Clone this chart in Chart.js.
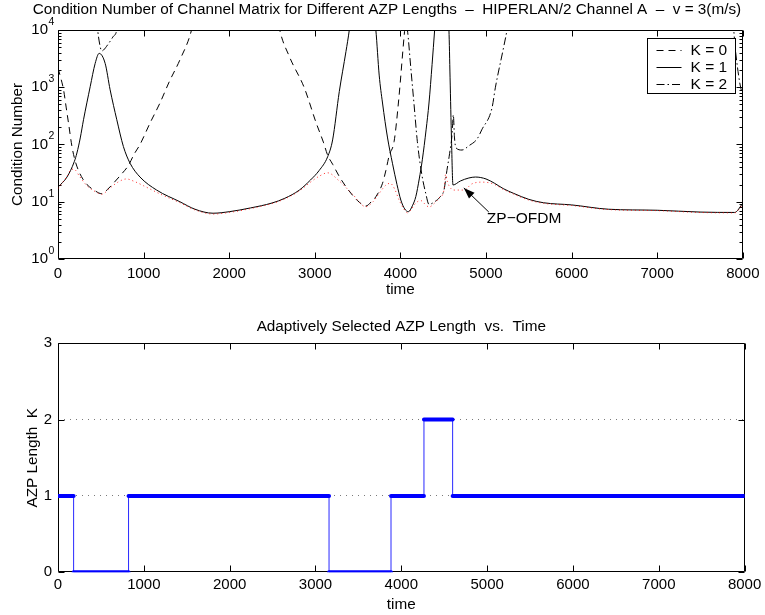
<!DOCTYPE html>
<html><head><meta charset="utf-8">
<script src="https://cdn.jsdelivr.net/npm/chart.js@4.4.1/dist/chart.umd.min.js"></script>
<style>
html,body{margin:0;padding:0;background:#fff;}
#wrap{position:relative;width:765px;height:615px;overflow:hidden;background:#fff;}
canvas{position:absolute;left:0;}
#c1{top:0;} #c2{top:300px;}
</style></head><body>
<div id="wrap"><canvas id="c1" width="765" height="300"></canvas><canvas id="c2" width="765" height="315"></canvas></div>
<script>
// ---------------- data ----------------
const topTitle = 'Condition Number of Channel Matrix for Different AZP Lengths  \u2013  HIPERLAN/2 Channel A  \u2013  v = 3(m/s)';
const bottomTitle = 'Adaptively Selected AZP Length  vs.  Time';
const xTickValues = [0, 1000, 2000, 3000, 4000, 5000, 6000, 7000, 8000];
const logTickBase = '10';
const logTickExponents = ['0', '1', '2', '3', '4'];
const legendLabels = ['K = 0', 'K = 1', 'K = 2'];

// K = 0 (dashed)
const timeK0 = [0, 35, 65, 95, 124, 163, 200, 240, 290, 338, 420, 512, 580, 647, 730, 822, 890, 958, 1074, 1191, 1300, 1424, 1560, 1640,
  2520, 2590, 2704, 2878, 3015, 3100, 3150, 3209, 3290, 3364, 3450, 3520, 3596, 3660, 3713, 3791, 3830, 3870, 3926, 3980, 4044, 4090, 8000];
const condK0 = [2150, 1400, 900, 450, 230, 92, 52, 35, 25, 20, 16, 13.8, 16.5, 21, 29, 43, 68, 100, 235, 530, 1250, 3000, 10000, 40000,
  40000, 10000, 3400, 970, 240, 110, 65, 45, 27, 18.3, 12.5, 9.8, 8.4, 10, 12.2, 21, 35, 65, 112, 600, 8000, 40000, 40000];

// K = 1 (solid)
const timeK1 = [0, 105, 190, 221, 260, 298, 376, 434, 481, 551, 609, 687, 764, 842, 958, 1152, 1424, 1600, 1811, 2000, 2250, 2500, 2650, 2820,
  2950, 3050, 3150, 3208, 3286, 3364, 3403, 3450, 3660, 3713, 3752, 3791, 3850, 3907, 3960, 4005, 4050, 4093, 4140, 4180, 4220, 4256, 4300,
  4334, 4370, 4400, 4430, 4545, 4567, 4580, 4597, 4614, 4700, 4800, 4877, 5000, 5100, 5200, 5323, 5500, 5672, 6000, 6430, 7000, 7500, 7904, 8000];
const condK1 = [18, 27, 50, 71, 130, 270, 1020, 2600, 3900, 2600, 900, 270, 92, 47, 27, 16, 10, 7.4, 6.3, 6.7, 7.8, 9.5, 11.5, 16,
  24, 35, 61, 120, 840, 4200, 10000, 40000, 40000, 10000, 1630, 530, 130, 47, 20, 10.7, 7.5, 6.7, 8.5, 12.3, 25, 54, 180,
  530, 2500, 10000, 40000, 40000, 10000, 1500, 120, 19.6, 23, 26, 27, 25, 21, 17, 14, 11, 9.6, 8.8, 7.4, 7.1, 6.6, 6.5, 9.4];

// K = 2 (dash-dot)
const timeK2 = [0, 420, 473, 512, 531, 580, 640, 687, 740, 4000, 4082, 4120, 4160, 4198, 4250, 4296, 4334, 4400, 4460, 4509, 4543, 4575, 4605,
  4618, 4632, 4650, 4720, 4800, 4896, 4950, 5070, 5110, 5207, 5245, 5300, 7850, 7917, 7964, 8000];
const condK2 = [40000, 40000, 7600, 4300, 4450, 5500, 7500, 10000, 40000, 40000, 10000, 2300, 490, 112, 30, 14, 9, 10, 12, 16, 35, 70, 160,
  330, 130, 87, 80, 95, 125, 180, 435, 1000, 5100, 10000, 40000, 40000, 4000, 1200, 700];

// ZP-OFDM (red dotted)
const timeZP = [0, 100, 163, 200, 250, 338, 420, 512, 600, 700, 800, 880, 1000, 1200, 1424, 1600, 1811, 2000, 2250, 2500, 2650, 2820, 2950,
  3053, 3150, 3286, 3441, 3596, 3680, 3752, 3830, 3880, 3930, 3985, 4040, 4082, 4130, 4180, 4237, 4290, 4334, 4400, 4450, 4509, 4528, 4550,
  4590, 4625, 4741, 4835, 4950, 5033, 5100, 5200, 5323, 5500, 5672, 6000, 6430, 7000, 7500, 7904, 8000];
const condZP = [17, 27, 37, 36, 28, 19, 15.5, 13.5, 17, 22, 25, 23, 19, 13.5, 9.6, 7.2, 6.1, 6.5, 7.6, 9.3, 11.2, 15.5, 22,
  28, 32, 23, 13.5, 8.2, 10, 14, 19.5, 21, 17, 10.7, 7.5, 6.4, 7.5, 9.5, 10.5, 9, 8.1, 9.5, 11.5, 16, 30, 22,
  17, 16, 16, 20.5, 22, 21.5, 20, 16.5, 13.6, 10.7, 9.4, 8.6, 7.3, 7.0, 6.5, 6.4, 9];

// annotation (data coordinates)
const zpNote = { text: 'ZP\u2212OFDM', tipX: 4741, tipY: 17.4, tailX: 5033, tailY: 6.6, textX: 5010, textY: 5.1 };

// Adaptive AZP length selection (step function)
const azpTimes = [0, 182, 822, 3158, 3880, 4264, 4598, 8000];
const azpLevels = [1, 0, 1, 0, 1, 2, 1, 1];
const azpTicks = [0, 1, 2, 3];

// ---------------- helpers ----------------
const FONT = '"Liberation Sans", Arial, Helvetica, sans-serif';
Chart.defaults.font.family = FONT;
Chart.defaults.font.size = 15;
Chart.defaults.color = '#000';
const TXT = 15.3;

function pts(xs, ys) { return xs.map((x, i) => ({ x: x, y: ys[i] })); }

const logMajor = [1, 10, 100, 1000, 10000];
const logMinor = [];
for (let d = 0; d < 4; d++) for (let k = 2; k <= 9; k++) logMinor.push(k * Math.pow(10, d));

const matlabAxes = {
  id: 'matlabAxes',
  afterLayout(chart, args, opts) {
    if (opts.titleShift && chart.titleBlock) {
      chart.titleBlock.left += opts.titleShift;
      chart.titleBlock.right += opts.titleShift;
    }
  },
  beforeDatasetsDraw(chart, args, opts) {
    const { ctx, chartArea: a } = chart;
    const xs = chart.scales.x, ys = chart.scales.y;
    ctx.save();
    ctx.strokeStyle = '#000';
    ctx.lineWidth = 1;
    const L = Math.round(a.left) + 0.5, R = Math.round(a.right) - 0.5, T = Math.round(a.top) + 0.5, B = Math.round(a.bottom) - 0.5;
    ctx.beginPath();
    ctx.rect(L, T, R - L, B - T);
    xTickValues.forEach(v => {
      const p = Math.round(xs.getPixelForValue(v)) + 0.5;
      ctx.moveTo(p, B); ctx.lineTo(p, B - 6);
      ctx.moveTo(p, T); ctx.lineTo(p, T + 6);
    });
    (opts.major || []).forEach(v => {
      const p = Math.round(ys.getPixelForValue(v)) + 0.5;
      ctx.moveTo(L, p); ctx.lineTo(L + 6, p);
      ctx.moveTo(R, p); ctx.lineTo(R - 6, p);
    });
    (opts.minor || []).forEach(v => {
      const p = Math.round(ys.getPixelForValue(v)) + 0.5;
      ctx.moveTo(L, p); ctx.lineTo(L + 3, p);
      ctx.moveTo(R, p); ctx.lineTo(R - 3, p);
    });
    ctx.stroke();
    // exponents of the log tick labels
    if (opts.exponents) {
      ctx.fillStyle = '#000';
      ctx.font = '10.5px ' + FONT;
      ctx.textAlign = 'left';
      ctx.textBaseline = 'middle';
      (opts.major || []).forEach((v, i) => {
        const p = ys.getPixelForValue(v);
        ctx.fillText(opts.exponents[i], a.left - 9.5, p - 8);
      });
    }
    ctx.restore();
  }
};

const insideLegend = {
  id: 'insideLegend',
  afterDatasetsDraw(chart) {
    const { ctx, chartArea: a } = chart;
    const w = 88, h = 55;
    const bx = Math.round(a.right - 8 - w) + 0.5, by = Math.round(a.top + 8) + 0.5;
    ctx.save();
    ctx.fillStyle = '#fff';
    ctx.fillRect(bx, by, w, h);
    ctx.strokeStyle = '#000';
    ctx.lineWidth = 1;
    ctx.strokeRect(bx, by, w, h);
    ctx.font = '15.5px ' + FONT;
    ctx.textBaseline = 'middle';
    ctx.textAlign = 'left';
    for (let i = 0; i < 3; i++) {
      const ds = chart.data.datasets[i];
      const yy = Math.round(by + 11 + i * 17) + 0.5;
      ctx.beginPath();
      ctx.setLineDash(ds.borderDash || []);
      ctx.strokeStyle = ds.borderColor;
      ctx.lineWidth = 1;
      ctx.moveTo(bx + 9, yy); ctx.lineTo(bx + 34, yy);
      ctx.stroke();
      ctx.setLineDash([]);
      ctx.fillStyle = '#000';
      ctx.fillText(legendLabels[i], bx + 43, yy);
    }
    ctx.restore();
  }
};

const zpAnnotation = {
  id: 'zpAnnotation',
  afterDatasetsDraw(chart) {
    const { ctx } = chart;
    const xs = chart.scales.x, ys = chart.scales.y;
    const tx = xs.getPixelForValue(zpNote.tipX), ty = ys.getPixelForValue(zpNote.tipY);
    const sx = xs.getPixelForValue(zpNote.tailX), sy = ys.getPixelForValue(zpNote.tailY);
    ctx.save();
    ctx.strokeStyle = '#000'; ctx.fillStyle = '#000'; ctx.lineWidth = 1;
    ctx.beginPath(); ctx.moveTo(sx, sy); ctx.lineTo(tx, ty); ctx.stroke();
    const ang = Math.atan2(ty - sy, tx - sx);
    const len = 11, hw = 4;
    const bxp = tx - len * Math.cos(ang), byp = ty - len * Math.sin(ang);
    ctx.beginPath();
    ctx.moveTo(tx, ty);
    ctx.lineTo(bxp + hw * Math.sin(ang), byp - hw * Math.cos(ang));
    ctx.lineTo(bxp - hw * Math.sin(ang), byp + hw * Math.cos(ang));
    ctx.closePath(); ctx.fill();
    ctx.font = '15.5px ' + FONT;
    ctx.textAlign = 'left'; ctx.textBaseline = 'middle';
    ctx.fillText(zpNote.text, xs.getPixelForValue(zpNote.textX), ys.getPixelForValue(zpNote.textY));
    ctx.restore();
  }
};

const xScaleBase = (ticksPadding, titlePadBottom, height) => ({
  type: 'linear', min: 0, max: 8000,
  afterBuildTicks(scale) { scale.ticks = xTickValues.map(v => ({ value: v })); },
  ticks: { padding: ticksPadding, autoSkip: false, maxRotation: 0, callback: v => String(v), font: { size: 15 } },
  grid: { display: false, drawTicks: false },
  border: { display: false },
  title: { display: true, text: 'time', font: { size: TXT }, padding: { top: 0, bottom: titlePadBottom } },
  afterFit(scale) { scale.height = height; }
});

// ---------------- top chart ----------------
new Chart(document.getElementById('c1'), {
  type: 'line',
  data: {
    datasets: [
      { label: legendLabels[0], data: pts(timeK0, condK0), borderColor: '#000', borderWidth: 1, borderDash: [7, 5], pointRadius: 0, cubicInterpolationMode: 'monotone', order: 3 },
      { label: legendLabels[1], data: pts(timeK1, condK1), borderColor: '#000', borderWidth: 1, pointRadius: 0, cubicInterpolationMode: 'monotone', order: 2 },
      { label: legendLabels[2], data: pts(timeK2, condK2), borderColor: '#000', borderWidth: 1, borderDash: [8, 3, 1.5, 3], pointRadius: 0, cubicInterpolationMode: 'monotone', order: 1 },
      { label: 'ZP-OFDM', data: pts(timeZP, condZP), borderColor: 'rgba(255,0,0,0.85)', borderWidth: 1, borderDash: [1, 3], pointRadius: 0, cubicInterpolationMode: 'monotone', order: 0 }
    ]
  },
  options: {
    responsive: false, devicePixelRatio: 1, animation: false, events: [],
    layout: { padding: { left: 0, right: 20, top: 0, bottom: 0 } },
    plugins: {
      legend: { display: false }, tooltip: { enabled: false },
      title: { display: true, text: topTitle, font: { size: TXT, weight: 'normal' }, color: '#000', padding: { top: 0.8, bottom: 10.8 } },
      matlabAxes: { major: logMajor, minor: logMinor, exponents: logTickExponents, titleShift: 14.5 }
    },
    scales: {
      x: xScaleBase(5.5, 0.8, 41),
      y: {
        type: 'logarithmic', min: 1, max: 10000,
        afterBuildTicks(scale) { scale.ticks = logMajor.map(v => ({ value: v })); },
        ticks: { padding: 10, autoSkip: false, callback: () => logTickBase, font: { size: 15 } },
        grid: { display: false, drawTicks: false },
        border: { display: false },
        title: { display: true, text: 'Condition Number', font: { size: TXT }, padding: { top: 8.8, bottom: 0 } },
        afterFit(scale) { scale.width = 58; }
      }
    }
  },
  plugins: [matlabAxes, insideLegend, zpAnnotation]
});

// ---------------- bottom chart ----------------
const thinStep = pts(azpTimes, azpLevels);
const thickSegs = [];
for (let i = 0; i < azpTimes.length - 1; i++) {
  thickSegs.push({ x: azpTimes[i], y: azpLevels[i] });
  thickSegs.push({ x: azpTimes[i + 1], y: azpLevels[i] });
  thickSegs.push({ x: azpTimes[i + 1], y: null });
}

new Chart(document.getElementById('c2'), {
  type: 'line',
  data: {
    datasets: [
      { label: 'selected', data: thickSegs, borderColor: 'rgb(0,0,255)', borderWidth: 4, borderCapStyle: 'round', pointRadius: 0, spanGaps: false, order: 0 },
      { label: 'step', data: thinStep, borderColor: 'rgb(40,40,255)', borderWidth: 1, stepped: 'before', pointRadius: 0, order: 1 }
    ]
  },
  options: {
    responsive: false, devicePixelRatio: 1, animation: false, events: [],
    layout: { padding: { left: 0, right: 20, top: 0, bottom: 0 } },
    plugins: {
      legend: { display: false }, tooltip: { enabled: false },
      title: { display: true, fullSize: false, text: bottomTitle, font: { size: TXT, weight: 'normal' }, color: '#000', padding: { top: 17.8, bottom: 7.1 } },
      matlabAxes: { major: azpTicks, minor: [] }
    },
    scales: {
      x: xScaleBase(3.7, 0.8, 42.7),
      y: {
        type: 'linear', min: 0, max: 3,
        afterBuildTicks(scale) { scale.ticks = azpTicks.map(v => ({ value: v })); },
        ticks: { padding: 6, autoSkip: false, callback: v => String(v), font: { size: 15 } },
        grid: { display: true, drawTicks: false, lineWidth: 1,
          color: (c) => (c.tick && (c.tick.value === 1 || c.tick.value === 2)) ? '#7a7a7a' : 'rgba(0,0,0,0)' },
        border: { display: false, dash: [1, 5] },
        title: { display: true, text: 'AZP Length  K', font: { size: TXT }, padding: { top: 23.8, bottom: 0 } },
        afterFit(scale) { scale.width = 58; }
      }
    }
  },
  plugins: [matlabAxes]
});
</script>
</body></html>
